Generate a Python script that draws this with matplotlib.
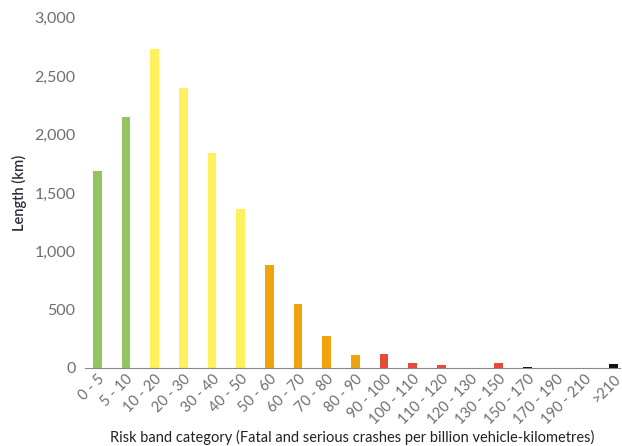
import matplotlib
matplotlib.use("Agg")
import matplotlib.pyplot as plt

categories = ["0 - 5", "5 - 10", "10 - 20", "20 - 30", "30 - 40", "40 - 50",
              "50 - 60", "60 - 70", "70 - 80", "80 - 90", "90 - 100",
              "100 - 110", "110 - 120", "120 - 130", "130 - 150", "150 - 170",
              "170 - 190", "190 - 210", ">210"]
lengths = [1690, 2150, 2730, 2400, 1845, 1365, 880, 550, 275, 110, 120,
           45, 25, 0, 45, 10, 0, 0, 30]
band_colours = ["#93c462", "#93c462", "#fff05c", "#fff05c", "#fff05c",
                "#fff05c", "#f0a30c", "#f0a30c", "#f0a30c", "#f0a30c",
                "#e84a3a", "#e84a3a", "#e84a3a", "#e84a3a", "#e84a3a",
                "#111111", "#111111", "#111111", "#111111"]

plt.rcParams["font.family"] = ["Lato", "DejaVu Sans"]

fig = plt.figure(figsize=(6.22, 4.46), dpi=100)
ax = fig.add_axes([0.137, 0.175, 0.86, 0.785])

x = range(len(categories))
ax.bar(x, lengths, width=0.3, color=band_colours)

ax.set_xlim(-0.42, len(categories) - 0.76)
ax.set_ylim(0, 3000)
ax.set_yticks(range(0, 3001, 500))
ax.set_yticklabels([f"{v:,}" for v in range(0, 3001, 500)],
                   color="#6e6e6e", fontsize=11.5)
ax.set_xticks(list(x))
ax.set_xticklabels(categories, rotation=45, ha="right", rotation_mode="anchor",
                   color="#6e6e6e", fontsize=10.5)
ax.tick_params(axis="y", length=0, pad=7)
ax.tick_params(axis="x", length=0, pad=3)

for side in ["top", "right", "left"]:
    ax.spines[side].set_visible(False)
ax.spines["bottom"].set_color("#888888")

ax.set_ylabel("Length (km)", color="#2b2f3a", fontweight="semibold", fontsize=10.5,
              labelpad=5)
ax.set_xlabel("Risk band category (Fatal and serious crashes per billion vehicle-kilometres)",
              color="#222222", fontsize=10.5, labelpad=2)

fig.savefig("out.png", dpi=100)
